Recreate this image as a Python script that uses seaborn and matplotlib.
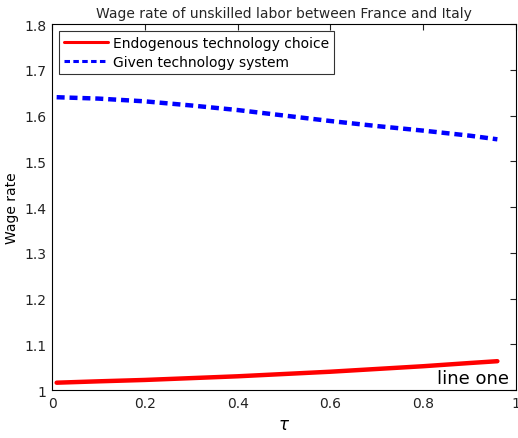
import matplotlib
matplotlib.use("Agg")
import matplotlib.pyplot as plt
import seaborn as sns

# values
tau = [0.01, 0.1, 0.2, 0.3, 0.4, 0.5, 0.6, 0.7, 0.8, 0.9, 0.96]
endogenous = [1.016, 1.019, 1.022, 1.026, 1.030, 1.035, 1.040, 1.046, 1.052, 1.059, 1.063]
given = [1.640, 1.637, 1.631, 1.622, 1.612, 1.600, 1.588, 1.577, 1.567, 1.556, 1.548]
xticks = [0, 0.2, 0.4, 0.6, 0.8, 1]
yticks = [1, 1.1, 1.2, 1.3, 1.4, 1.5, 1.6, 1.7, 1.8]

sns.set_theme(style="white")
plt.rcParams['font.family'] = ['DejaVu Sans']

fig = plt.figure(figsize=(5.18, 4.39), dpi=100)
ax = fig.add_axes([0.1004, 0.1093, 0.8956, 0.8337])

sns.lineplot(x=tau, y=endogenous, ax=ax, color="#ff0000", linewidth=3.2,
             label="Endogenous technology choice")
sns.lineplot(x=tau, y=given, ax=ax, color="#0000ff", linewidth=3.2,
             linestyle=(0, (1.8, 1.1)), label="Given technology system")

ax.set_xlim(0, 1)
ax.set_ylim(1, 1.8)
ax.set_xticks(xticks)
ax.set_xticklabels([f"{t:g}" for t in xticks])
ax.set_yticks(yticks)
ax.set_yticklabels([f"{t:g}" for t in yticks])
ax.tick_params(direction="in", top=True, right=True, length=4, width=0.8,
               labelsize=10, colors="#222222", pad=4)
for s in ax.spines.values():
    s.set_color("black")
    s.set_linewidth(0.8)

ax.set_title("Wage rate of unskilled labor between France and Italy", fontsize=10, pad=5)
ax.set_ylabel("Wage rate", fontsize=10, color="black")
ax.set_xlabel(r"$\tau$", fontsize=12, color="black")

leg = ax.legend(loc="upper left", fontsize=10, frameon=True, fancybox=False,
                handlelength=3.2, borderpad=0.35, labelspacing=0.35,
                borderaxespad=0.5, handletextpad=0.35)
leg.get_frame().set_edgecolor("black")
leg.get_frame().set_linewidth(0.8)
for line in leg.get_lines():
    line.set_linewidth(2.2)
for t in leg.get_texts():
    t.set_color("black")

ax.text(0.985, 0.008, "line one", transform=ax.transAxes, ha="right", va="bottom",
        fontsize=13, color="black")

fig.savefig("out.png", dpi=100)
